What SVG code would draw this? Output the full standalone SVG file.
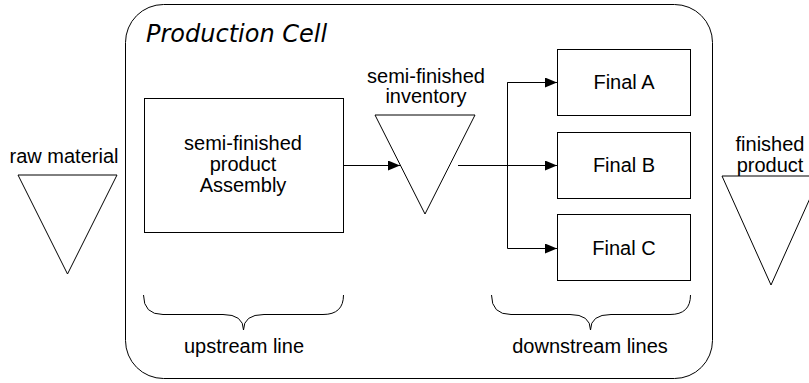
<svg xmlns="http://www.w3.org/2000/svg" width="809" height="383" viewBox="0 0 809 383">
<style>
.s{fill:#fff;stroke:#000;stroke-width:1}
.t{font-family:"Liberation Sans",Arial,sans-serif;font-size:20px;fill:#000;text-anchor:middle}
.c{fill:none;stroke:#000;stroke-width:1}
</style>
<defs>
<marker id="ah" markerWidth="12" markerHeight="10" refX="12" refY="5" orient="auto" markerUnits="userSpaceOnUse">
<path d="M0,0 L12,5 L0,10 Z" fill="#000"/>
</marker>
</defs>
<rect width="809" height="383" fill="#fff"/>
<g id="cell">
<rect x="125.5" y="4.5" width="587" height="374" rx="38" ry="38" fill="#fff" stroke="#000" stroke-width="1"/>
<text x="146" y="42" style="font-family:'DejaVu Sans',sans-serif;font-style:italic;font-size:24px;fill:#000">Production Cell</text>
</g>
<g id="raw">
<polygon class="s" points="18,175 117,175 67.5,274"/>
<text class="t" x="64" y="163">raw material</text>
</g>
<g id="assembly">
<rect class="s" x="144.5" y="98.5" width="199" height="134"/>
<text class="t" x="243" y="150">semi-finished</text>
<text class="t" x="243" y="171">product</text>
<text class="t" x="243" y="192">Assembly</text>
</g>
<g id="inventory">
<polygon class="s" points="375,115 475,115 425,214"/>
<text class="t" x="426" y="83">semi-finished</text>
<text class="t" x="426" y="103">inventory</text>
</g>
<g id="finalA">
<rect class="s" x="557.5" y="49.5" width="133" height="66"/>
<text class="t" x="624" y="89">Final A</text>
</g>
<g id="finalB">
<rect class="s" x="557.5" y="132.5" width="133" height="66"/>
<text class="t" x="624" y="172">Final B</text>
</g>
<g id="finalC">
<rect class="s" x="557.5" y="214.5" width="133" height="66"/>
<text class="t" x="624" y="255">Final C</text>
</g>
<g id="finished">
<polygon class="s" points="722,176 820,176 771,285"/>
<text class="t" x="770" y="151">finished</text>
<text class="t" x="770" y="172">product</text>
</g>
<g id="upstream">
<path class="c" d="M143.5,295 Q143.5,314.5 163,314.5 L223,314.5 Q243.5,314.5 243.5,330 Q243.5,314.5 264,314.5 L323,314.5 Q343.5,314.5 343.5,295"/>
<text class="t" x="244" y="353">upstream line</text>
</g>
<g id="downstream">
<path class="c" d="M491.5,295 Q491.5,314.5 511,314.5 L570,314.5 Q590.5,314.5 590.5,330 Q590.5,314.5 611,314.5 L670,314.5 Q690.5,314.5 690.5,295"/>
<text class="t" x="590" y="353">downstream lines</text>
</g>
<g id="connectors">
<line class="c" x1="343" y1="165.5" x2="400" y2="165.5" marker-end="url(#ah)"/>
<line class="c" x1="458" y1="165.5" x2="557" y2="165.5" marker-end="url(#ah)"/>
<polyline class="c" points="557,82.5 507.5,82.5 507.5,248.5 557,248.5" marker-end="url(#ah)"/>
<line class="c" x1="507.5" y1="82.5" x2="557" y2="82.5" marker-end="url(#ah)"/>
</g>
</svg>
